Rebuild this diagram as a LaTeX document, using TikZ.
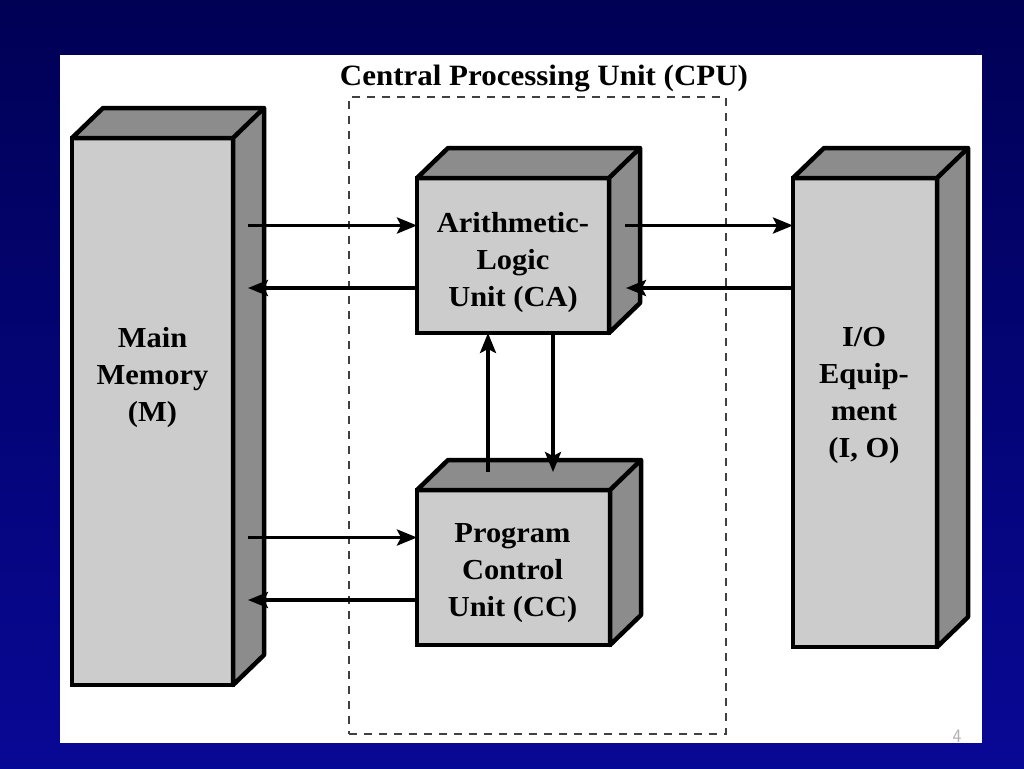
\documentclass[tikz,border=0pt]{standalone}
\usepackage{fontspec}
\setmainfont{Liberation Serif}[FakeStretch=1.05]
\usepackage{tikz}
\usetikzlibrary{arrows.meta}
\usetikzlibrary{calc}
\usetikzlibrary{positioning}
\definecolor{slidetop}{RGB}{0,0,85}
\definecolor{slidebot}{RGB}{8,8,150}
\definecolor{frontgray}{RGB}{204,204,204}
\definecolor{sidegray}{RGB}{140,140,140}
\tikzstyle{unit}=[shape=rectangle,draw,fill=frontgray,line width=4.5pt,outer sep=0pt,inner sep=0pt]
\tikzstyle{utext}=[align=center,font=\fontsize{29}{37}\selectfont\bfseries]
\tikzstyle{face}=[draw,fill=sidegray,line width=4.5pt,line join=round]
\tikzstyle{tran}=[draw,-{Stealth[length=20pt,width=16pt,inset=4pt]},line width=3.5pt]
\tikzstyle{cpu}=[draw=black!75,line width=2.2pt,dash pattern=on 8pt off 7pt,outer sep=0pt]
\newcommand{\boxback}[1]{%
\filldraw[face] (#1.north west) -- ++(31,-30) -- ($(#1.north east)+(31,-30)$) 
-- ($(#1.south east)+(31,-30)$) -- (#1.south east) -- (#1.north east) -- cycle;
\draw[face] (#1.north east) -- ++(31,-30);}

\begin{document}
\begin{tikzpicture}[x=1pt,y=-1pt]
\useasboundingbox (0,0) rectangle (1024,768);
\shade[top color=slidetop,bottom color=slidebot] (0,0) rectangle (1024,768);
\fill[white] (60,55) rectangle (982,743);

\node[font=\fontsize{29.5}{30}\selectfont\bfseries] (title) at (544,79) {Central Processing Unit (CPU)};
\node[cpu, minimum width=377, minimum height=637] (cpubox) at (537.5,415.5) {};

\node[unit, minimum width=161, minimum height=547] (mm) at (152.5,411.5) {};
\boxback{mm}
\node[utext] (mmtext) at ($(mm)+(0,-34)$) {Main\\Memory\\(M)};

\node[unit, minimum width=192, minimum height=155] (alu) at (513,255.5) {};
\boxback{alu}
\node[utext] (alutext) at ($(alu)+(0,7)$) {Arithmetic-\\Logic\\Unit (CA)};
%\node[unit, minimum width=192, minimum height=155] (pcu) at (513,567.5) {};
\node[unit, minimum width=193, minimum height=155] (pcu) at (513.5,567.5) {};
\boxback{pcu}
\node[utext] (pcutext) at ($(pcu)+(-1,6)$) {Program\\Control\\Unit (CC)};

\node[unit, minimum width=144, minimum height=469] (io) at (865,412.5) {};
\boxback{io}
\node[utext] (iotext) at ($(io)+(-1,-17)$) {I/O\\Equip-\\ment\\(I, O)};

\draw[tran] ($(mm.east |- alu.west)+(15,-30)$) -- ($(alu.west)+(0,-30)$);
\draw[tran] ($(alu.west)+(0,32.5)$) -- ($(mm.east |- alu.west)+(15,32.5)$);
\draw[tran] ($(mm.east |- pcu.west)+(15,-30)$) -- ($(pcu.west)+(0,-30)$);
\draw[tran] ($(pcu.west)+(0,32.5)$) -- ($(mm.east |- pcu.west)+(15,32.5)$);

\draw[tran] ($(alu.east)+(16,-30)$) -- ($(io.west |- alu.west)+(0,-30)$);
\draw[tran] ($(io.west |- alu.west)+(0,32.5)$) -- ($(alu.east)+(17,32.5)$);

\draw[tran] ($(pcu.north)+(-25.5,-18)$) -- ($(alu.south)+(-25,0)$);
\draw[tran] ($(alu.south)+(40,0)$) -- ($(pcu.north)+(39.5,-18)$);

\node[text=gray!60, font=\fontsize{19}{19}\selectfont\sffamily] (pg) at (957,736) {4};
\end{tikzpicture}
\end{document}
